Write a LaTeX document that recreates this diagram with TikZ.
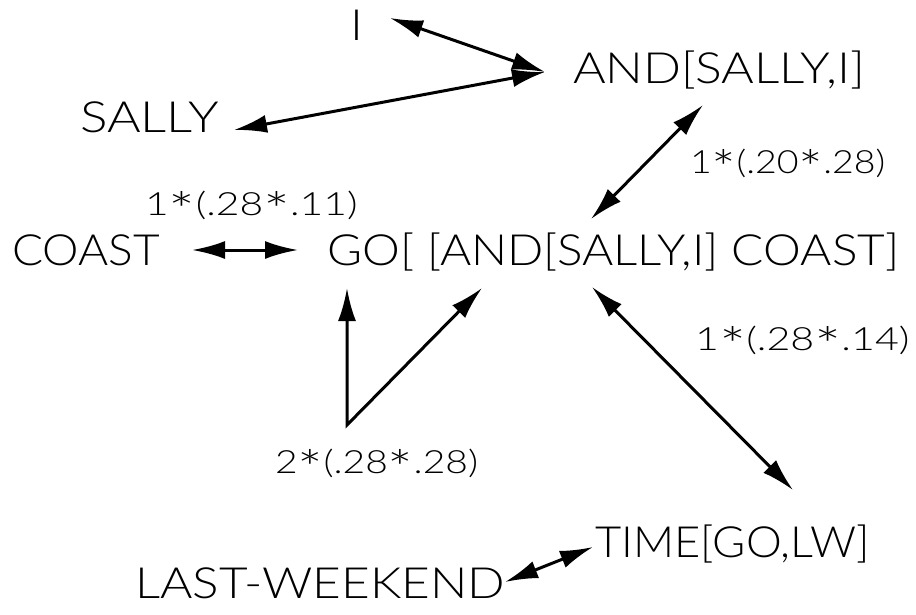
\documentclass[tikz,border=0pt]{standalone}
\usepackage{graphicx}
\usepackage{fontspec}
\setmainfont{Lato}[UprightFont=* Light, FakeStretch=1.15]
\usetikzlibrary{arrows.meta}
\newcommand{\sxx}[2]{\scalebox{#1}[1]{#2}}
\newcommand{\mystar}{\raisebox{-0.42em}{\scalebox{1.55}{*}}}
\begin{document}
\begin{tikzpicture}[x=1pt,y=-1pt,
  big/.style={inner sep=0pt, anchor=base west, font=\fontsize{43}{43}\selectfont},
  lab/.style={inner sep=0pt, anchor=base west, font=\fontsize{32}{32}\selectfont},
  conn/.style={line width=3pt, {Latex[length=33pt,width=18pt]}-{Latex[length=33pt,width=18pt]}}]
\useasboundingbox (0,0) rectangle (916,614);
\node[big] (i) at (350,40) {I};
\node[big] (and) at (573,83) {\sxx{1.01}{AND[SALLY,I]}};
\node[big] (sally) at (80,132) {\sxx{1.04}{SALLY}};
\node[big] (coast) at (12,265) {\sxx{0.93}{COAST}};
\node[big] (go) at (327,265) {\sxx{0.965}{GO[ [AND[SALLY,I] COAST]}};
\node[big] (time) at (595,557) {\sxx{0.915}{TIME[GO,LW]}};
\node[big] (lw) at (135,598) {LAST-WEEKEND};
\node[lab] (l1) at (145,215) {\sxx{1.11}{1\mystar(.28\mystar.11)}};
\node[lab] (l2) at (690,173) {\sxx{1.02}{1\mystar(.20\mystar.28)}};
\node[lab] (l3) at (695,350) {\sxx{1.12}{1\mystar(.28\mystar.14)}};
\node[lab] (l4) at (275,473) {\sxx{1.06}{2\mystar(.28\mystar.28)}};
% connector endpoints
\coordinate (iE) at (390,18);
\coordinate (andW) at (545,72);
\coordinate (sallyE) at (234,130);
\coordinate (coastE) at (192,250);
\coordinate (goW) at (298,250);
\coordinate (andS) at (703,105);
\coordinate (goN) at (591,219);
\coordinate (goS) at (592,287);
\coordinate (timeN) at (793,490);
\coordinate (lwE) at (505,582);
\coordinate (timeW) at (593,547);
\coordinate (vl) at (347,288);
\coordinate (vb) at (347,425);
\coordinate (vr) at (482,288);
\draw[conn] (iE) -- (andW);
\draw[conn] (sallyE) -- (andW);
\draw[conn] (coastE) -- (goW);
\draw[conn] (andS) -- (goN);
\draw[conn] (goS) -- (timeN);
\draw[conn] (lwE) -- (timeW);
\draw[conn, line join=miter] (vl) -- (vb) -- (vr);
\end{tikzpicture}
\end{document}
